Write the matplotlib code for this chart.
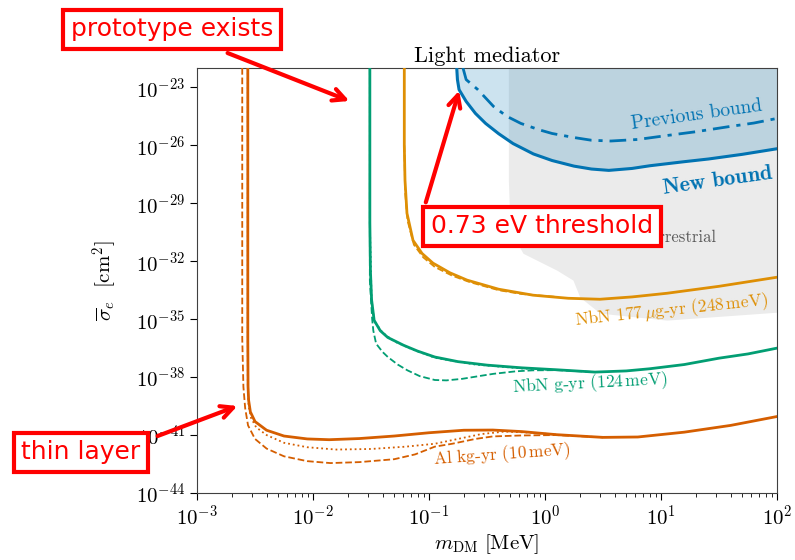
import matplotlib
matplotlib.use('Agg')
import matplotlib.pyplot as plt
from matplotlib.patches import FancyArrowPatch
from matplotlib.ticker import NullLocator
import numpy as np

plt.rcParams['font.family'] = 'serif'
plt.rcParams['font.serif'] = ['cmr10']
plt.rcParams['mathtext.fontset'] = 'cm'
plt.rcParams['axes.formatter.use_mathtext'] = True

# %% data (log10 of m_DM in MeV, log10 of sigma_e in cm^2)

# Al kg-yr (10 meV)
al_m = [-2.562, -2.562, -2.56, -2.555, -2.54, -2.50, -2.40, -2.25, -2.05, -1.86, -1.6,
        -1.3, -1.0, -0.7, -0.45, -0.2, 0.1, 0.5, 0.8, 1.2, 1.6, 2.0]
al_s = [-22, -36, -38.5, -39.2, -39.8, -40.3, -40.75, -41.05, -41.2, -41.24, -41.18,
        -41.05, -40.88, -40.75, -40.74, -40.82, -40.98, -41.12, -41.1, -40.85, -40.5, -40.04]
al_dot_m = [-2.562, -2.562, -2.555, -2.535, -2.49, -2.4, -2.25, -2.05, -1.8, -1.5, -1.2,
            -0.95, -0.75, -0.55, -0.35, -0.1, 0.1]
al_dot_s = [-22, -38.5, -39.5, -40.1, -40.6, -41.0, -41.4, -41.63, -41.75, -41.72, -41.6,
            -41.45, -41.2, -40.95, -40.82, -40.88, -40.98]
al_dash_m = [-2.61, -2.61, -2.60, -2.585, -2.56, -2.50, -2.40, -2.25, -2.05, -1.85, -1.6,
             -1.3, -1.12, -0.95, -0.8, -0.6, -0.45, -0.2, 0.1, 0.3, 0.5]
al_dash_s = [-22, -36, -38.5, -39.6, -40.5, -41.2, -41.7, -42.1, -42.35, -42.45, -42.4,
             -42.25, -42.0, -41.6, -41.45, -41.2, -41.07, -41.02, -41.0, -41.06, -41.12]

# NbN g-yr (124 meV)
g_m = [-1.51, -1.51, -1.505, -1.495, -1.473, -1.42, -1.355, -1.22, -1.1, -0.95, -0.75,
       -0.5, -0.2, 0.1, 0.43, 0.7, 0.9, 1.2, 1.5, 1.75, 2.0]
g_s = [-22, -30, -32.5, -34, -35.06, -35.6, -35.95, -36.35, -36.65, -36.96, -37.2,
       -37.38, -37.52, -37.62, -37.74, -37.68, -37.57, -37.35, -37.02, -36.8, -36.5]
g_dot_m = [-1.51, -1.495, -1.473, -1.40, -1.3, -1.15, -0.95, -0.6, -0.2, 0.1]
g_dot_s = [-30, -34, -35.1, -35.7, -36.15, -36.55, -37.0, -37.35, -37.55, -37.63]
g_dash_m = [-1.51, -1.51, -1.49, -1.48, -1.456, -1.40, -1.355, -1.27, -1.186, -1.08,
            -0.95, -0.85, -0.714, -0.55, -0.444, -0.25, -0.107, 0.1, 0.43]
g_dash_s = [-22, -33, -35.0, -35.6, -36.27, -36.7, -36.96, -37.35, -37.65, -37.95,
            -38.15, -38.17, -38.09, -37.93, -37.83, -37.7, -37.65, -37.64, -37.74]

# NbN 177 ug-yr (248 meV)
n_m = [-1.213, -1.213, -1.207, -1.19, -1.138, -1.06, -0.966, -0.82, -0.672, -0.4,
       -0.103, 0.2, 0.474, 0.75, 1.052, 1.5, 2.0]
n_s = [-22, -26, -27.81, -29.52, -30.92, -31.6, -32.1, -32.6, -32.98, -33.45,
       -33.76, -33.92, -33.97, -33.85, -33.66, -33.3, -32.83]
n_dash_m = [-1.213, -1.205, -1.185, -1.13, -1.05, -0.95, -0.8, -0.65, -0.4, -0.2, 0.1]
n_dash_s = [-26, -28.5, -29.9, -31.15, -31.8, -32.3, -32.75, -33.08, -33.5, -33.7, -33.85]

# new and previous bound
new_m = [-0.761, -0.755, -0.741, -0.68, -0.6, -0.512, -0.4, -0.276, -0.1, 0.061, 0.25,
         0.40, 0.55, 0.75, 0.904, 1.2, 1.41, 1.7, 2.0]
new_s = [-22, -22.6, -23.12, -23.73, -24.35, -24.87, -25.4, -25.91, -26.45, -26.79, -27.08,
         -27.23, -27.3, -27.2, -27.06, -26.85, -26.71, -26.47, -26.18]
prev_m = [-0.707, -0.68, -0.579, -0.444, -0.33, -0.208, -0.05, 0.061, 0.25, 0.40, 0.567,
          0.8, 1.07, 1.3, 1.58, 1.8, 2.0]
prev_s = [-22, -22.6, -23.12, -23.99, -24.5, -24.87, -25.2, -25.39, -25.6, -25.74, -25.78,
          -25.7, -25.48, -25.3, -25.04, -24.85, -24.61]

# terrestrial region boundary
terr_m = [-0.316, -0.316, -0.30, -0.19, 0.103, 0.241, 0.30, 0.474, 1.05, 2.0]
terr_s = [-22, -27.81, -30.4, -31.59, -32.47, -32.98, -33.86, -34.69, -35.05, -34.64]

y_ticks = [-23, -26, -29, -32, -35, -38, -41, -44]

c_blue = '#0173b2'
c_orange = '#de8f05'
c_green = '#029e73'
c_red = '#d55e00'


def p(v):
    return 10.0 ** np.array(v)


# %% plot

fig = plt.figure(figsize=(7.95, 5.6), dpi=100)
ax = fig.add_axes([0.2478, 0.1196, 0.7296, 0.759])

ax.fill_between(p(terr_m), p(terr_s), 1e-22, color='#ebebeb', lw=0, zorder=1)
ax.fill_between(p(new_m), p(new_s), 1e-22, color=c_blue, alpha=0.2, lw=0, zorder=2)

ax.plot(p(prev_m), p(prev_s), color=c_blue, ls=(0, (6, 2.5, 1.5, 2.5)), lw=2, zorder=4)
ax.plot(p(new_m), p(new_s), color=c_blue, lw=2.2, zorder=4)

ax.plot(p(n_dash_m), p(n_dash_s), color=c_orange, ls='--', lw=1.3, zorder=3)
ax.plot(p(n_m), p(n_s), color=c_orange, lw=2, zorder=3)

ax.plot(p(g_dash_m), p(g_dash_s), color=c_green, ls='--', lw=1.3, zorder=3)
ax.plot(p(g_dot_m), p(g_dot_s), color=c_green, ls=':', lw=1.3, zorder=3)
ax.plot(p(g_m), p(g_s), color=c_green, lw=2, zorder=3)

ax.plot(p(al_dash_m), p(al_dash_s), color=c_red, ls='--', lw=1.3, zorder=3)
ax.plot(p(al_dot_m), p(al_dot_s), color=c_red, ls=':', lw=1.3, zorder=3)
ax.plot(p(al_m), p(al_s), color=c_red, lw=2, zorder=3)

ax.set_xscale('log')
ax.set_yscale('log')
ax.set_xlim(1e-3, 1e2)
ax.set_ylim(1e-44, 1e-22)
ax.set_yticks(p(y_ticks))
ax.yaxis.set_minor_locator(NullLocator())
ax.tick_params(labelsize=15, length=5)
ax.tick_params(which='minor', length=3)
for s in ax.spines.values():
    s.set_color('0.25')

ax.set_title('Light mediator', fontsize=16, pad=4)
ax.set_xlabel(r'$m_{\rm DM}\ [\mathrm{MeV}]$', fontsize=15, labelpad=2)
ax.set_ylabel(r'$\overline{\sigma}_e\ \ [\mathrm{cm}^2]$', fontsize=15, labelpad=12)

ax.text(10**1.31, 10**-24.45, 'Previous bound', color=c_blue, fontsize=14,
        rotation=8, ha='center', va='center', zorder=5)
ax.text(10**1.49, 10**-27.8, r'$\mathbf{New\ bound}$', color=c_blue, fontsize=16,
        rotation=8, ha='center', va='center', zorder=5)
ax.text(10**1.48, 10**-30.76, 'Terrestrial', color='0.35', fontsize=12,
        ha='right', va='center', zorder=5)
ax.text(10**1.09, 10**-34.54, r'NbN 177$\,\mu$g-yr (248$\,$meV)', color=c_orange,
        fontsize=12.5, rotation=6, ha='center', va='center', zorder=5)
ax.text(10**0.39, 10**-38.31, r'NbN g-yr (124$\,$meV)', color=c_green,
        fontsize=12.5, rotation=3, ha='center', va='center', zorder=5)
ax.text(10**-0.37, 10**-42.04, r'Al kg-yr (10$\,$meV)', color=c_red,
        fontsize=12.5, rotation=4, ha='center', va='center', zorder=5)

# %% red annotations

W, H = 795.0, 560.0
box = dict(boxstyle='square,pad=0.3', fc='white', ec='red', lw=3)
notes = [('prototype exists', 172, 29, (225, 52), (352, 102)),
         ('0.73 eV threshold', 542, 226, (425, 205), (460, 88)),
         ('thin layer', 81, 452, (155, 437), (240, 405))]
for txt, tx, ty, a0, a1 in notes:
    arr = FancyArrowPatch((a0[0] / W, 1 - a0[1] / H), (a1[0] / W, 1 - a1[1] / H),
                          transform=fig.transFigure, arrowstyle='->', color='red',
                          lw=3, mutation_scale=22, zorder=10)
    fig.add_artist(arr)
    fig.text(tx / W, 1 - ty / H, txt, fontsize=18, color='red', family='DejaVu Sans',
             ha='center', va='center', bbox=box, zorder=11)

fig.savefig('out.png', dpi=100)
